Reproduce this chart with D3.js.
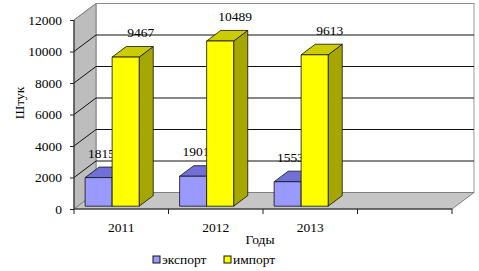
<!DOCTYPE html>
<head>
<meta charset="utf-8">
<style>
  html,body {
    margin: 0;
    padding: 0;
    background: white;
  }
  text {
    font-family: "Liberation Serif", "Times New Roman", serif;
    fill: black;
  }
</style>
<script src="https://d3js.org/d3.v7.min.js"></script>
</head>

<body>
<div id="chart_viz"></div>

<script>
// data
var years = ["2011", "2012", "2013"];
var exportValues = [1815, 1901, 1553];
var importValues = [9467, 10489, 9613];
var yTicks = [0, 2000, 4000, 6000, 8000, 10000, 12000];
var seriesNames = ["экспорт", "импорт"];

var width = 479, height = 271;
var fontSize = "13.5px";

// depth of the 3d box and of the bars
var depth = {dx: 22, dy: -16.5};
var barT0 = 0.17, barT1 = 0.81;

var svg = d3.select("#chart_viz")
  .append("svg")
    .attr("width", width)
    .attr("height", height);

// 4 bands, last one left empty like in the original
var x = d3.scaleBand()
  .domain(years.concat([" "]))
  .range([74, 452]);

var y = d3.scaleLinear()
  .domain([0, 12000])
  .range([209, 20]);

var colors = {
  exp: {front: "#9999ff", top: "#7070d8", side: "#5c5cb8"},
  imp: {front: "#ffff00", top: "#cccc00", side: "#a6a600"}
};

var x0 = x.range()[0], x1 = x.range()[1];
var pts = function (arr) { return arr.map(function (p) { return p.join(","); }).join(" "); };

// back wall
svg.append("rect")
  .attr("x", x0 + depth.dx)
  .attr("y", y(12000) + depth.dy)
  .attr("width", x1 + depth.dx - (x0 + depth.dx))
  .attr("height", y(0) - y(12000))
  .style("fill", "white")
  .style("stroke", "#9a9a9a");

// left wall
svg.append("polygon")
  .attr("points", pts([[x0, y(12000)], [x0 + depth.dx, y(12000) + depth.dy],
                       [x0 + depth.dx, y(0) + depth.dy], [x0, y(0)]]))
  .style("fill", "#bdbdbd")
  .style("stroke", "#808080");

// floor
svg.append("polygon")
  .attr("points", pts([[x0, y(0)], [x0 + depth.dx, y(0) + depth.dy],
                       [x1 + depth.dx, y(0) + depth.dy], [x1, y(0)]]))
  .style("fill", "#c6c6c6")
  .style("stroke", "#808080");

// gridlines on the left wall and back wall
yTicks.forEach(function (v) {
  if (v > 0) {
    svg.append("polyline")
      .attr("points", pts([[x0, y(v)], [x0 + depth.dx, y(v) + depth.dy], [x1 + depth.dx, y(v) + depth.dy]]))
      .style("fill", "none")
      .style("stroke", v == 12000 ? "#8a8a8a" : "#111")
      .style("stroke-width", 1);
  }
});

// axes on the front edge
var yAxis = d3.axisLeft(y).tickValues(yTicks).tickSize(4).tickFormat(d3.format("d"));
var ga = svg.append("g").attr("transform", "translate(" + x0 + ",0)").call(yAxis);
ga.select(".domain").remove();
ga.selectAll("line").style("stroke", "#222");
ga.selectAll("text")
  .attr("x", -12)
  .style("font-family", "Liberation Serif")
  .style("font-size", fontSize);

svg.append("line")
  .attr("x1", x0).attr("y1", y(12000)).attr("x2", x0).attr("y2", y(0))
  .style("stroke", "#222");
svg.append("line")
  .attr("x1", x0).attr("y1", y(0)).attr("x2", x1).attr("y2", y(0))
  .style("stroke", "#222");

// x ticks at the band edges
x.domain().concat(["end"]).forEach(function (d, i) {
  var px = i < x.domain().length ? x(d) : x1;
  svg.append("line")
    .attr("x1", px).attr("y1", y(0)).attr("x2", px).attr("y2", y(0) + 5)
    .style("stroke", "#222");
});

svg.selectAll(".year")
  .data(years)
  .enter()
  .append("text")
    .attr("class", "year")
    .attr("x", function (d) { return x(d) + x.bandwidth() / 2; })
    .attr("y", 232)
    .attr("text-anchor", "middle")
    .style("font-size", fontSize)
    .text(function (d) { return d; });

// one 3d bar: front rect, top and side faces
var drawBar = function (left, w, v, c) {
  var ox = barT0 * depth.dx, oy = barT0 * depth.dy;
  var ddx = (barT1 - barT0) * depth.dx, ddy = (barT1 - barT0) * depth.dy;
  var fx = left + ox, fr = fx + w;
  var ft = y(v) + oy, fb = y(0) + oy;
  var g = svg.append("g").style("stroke", "#111").style("stroke-width", 0.8).style("stroke-linejoin", "round");
  g.append("polygon")
    .attr("points", pts([[fr, ft], [fr + ddx, ft + ddy], [fr + ddx, fb + ddy], [fr, fb]]))
    .style("fill", c.side);
  g.append("polygon")
    .attr("points", pts([[fx, ft], [fx + ddx, ft + ddy], [fr + ddx, ft + ddy], [fr, ft]]))
    .style("fill", c.top);
  g.append("rect")
    .attr("x", fx).attr("y", ft).attr("width", w).attr("height", fb - ft)
    .style("fill", c.front);
  return {cx: fx + w / 2, top: ft};
};

var barW = x.bandwidth() * 0.286;
var barOff = x.bandwidth() * 0.078;

years.forEach(function (yr, i) {
  var left = x(yr) + barOff;

  var e = drawBar(left, barW, exportValues[i], colors.exp);
  svg.append("text")
    .attr("x", e.cx + 3)
    .attr("y", e.top - 20)
    .attr("text-anchor", "middle")
    .style("font-size", fontSize)
    .text(exportValues[i]);

  var m = drawBar(left + barW, barW, importValues[i], colors.imp);
  svg.append("text")
    .attr("x", m.cx + 15)
    .attr("y", m.top - 20)
    .attr("text-anchor", "middle")
    .style("font-size", fontSize)
    .text(importValues[i]);
});

// axis titles
svg.append("text")
  .attr("transform", "translate(24,103) rotate(-90)")
  .attr("text-anchor", "middle")
  .style("font-size", fontSize)
  .text("Штук");

svg.append("text")
  .attr("x", 260)
  .attr("y", 244)
  .attr("text-anchor", "middle")
  .style("font-size", fontSize)
  .text("Годы");

// legend
var legendX = [153, 224];
seriesNames.forEach(function (name, i) {
  svg.append("rect")
    .attr("x", legendX[i]).attr("y", 256)
    .attr("width", 7).attr("height", 7)
    .style("fill", i == 0 ? colors.exp.front : colors.imp.front)
    .style("stroke", "#111");
  svg.append("text")
    .attr("x", legendX[i] + 9)
    .attr("y", 264)
    .style("font-size", fontSize)
    .text(name);
});
</script>
</body>
</html>
